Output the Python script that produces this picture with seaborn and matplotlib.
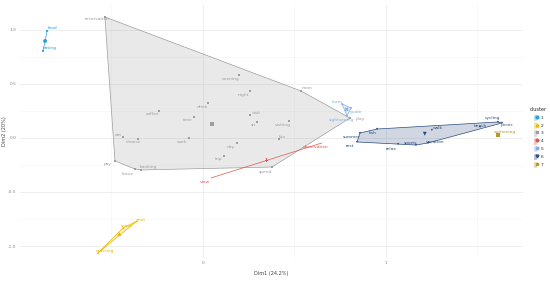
import numpy as np
import pandas as pd
import matplotlib
matplotlib.use("Agg")
import matplotlib.pyplot as plt
from matplotlib.patches import Polygon, Patch
from matplotlib.lines import Line2D
from matplotlib.legend_handler import HandlerTuple
import seaborn as sns

# word coordinates on the first two dimensions, with cluster labels
words = ["food", "eating",
         "fruit", "snack", "ordering",
         "reservation", "evening", "night", "noon", "drink", "coffee", "time",
         "visit", "sit", "visiting", "eat", "choose", "work", "fun", "day",
         "trip", "pay", "leave", "booking", "spend", "play",
         "observation", "view",
         "learn", "guide", "sightseeing",
         "summer", "rest", "fish", "relax", "sports", "vacation", "walk",
         "beach", "cycling", "picnic",
         "swimming"]
dim1 = [-0.852, -0.874,
        -0.361, -0.437, -0.574,
        -0.536, 0.197, 0.257, 0.536, 0.027, -0.240, -0.049,
        0.257, 0.295, 0.470, -0.437, -0.355, -0.077, 0.415, 0.186,
        0.115, -0.481, -0.372, -0.339, 0.377, 0.803,
        0.650, 0.044,
        0.760, 0.809, 0.787,
        0.858, 0.842, 0.951, 1.066, 1.164, 1.230, 1.251,
        1.514, 1.612, 1.634,
        1.612]
dim2 = [0.991, 0.806,
        -0.769, -0.833, -1.065,
        1.120, 0.583, 0.435, 0.435, 0.324, 0.250, 0.194,
        0.213, 0.148, 0.157, 0.009, -0.009, 0.000, -0.009, -0.046,
        -0.167, -0.213, -0.287, -0.296, -0.269, 0.185,
        -0.046, -0.370,
        0.315, 0.278, 0.204,
        0.046, -0.037, 0.083, -0.056, -0.065, -0.046, 0.074,
        0.102, 0.148, 0.139,
        0.028]
cluster = [1, 1,
           2, 2, 2,
           3, 3, 3, 3, 3, 3, 3, 3, 3, 3, 3, 3, 3, 3, 3, 3, 3, 3, 3, 3, 3,
           4, 4,
           5, 5, 5,
           6, 6, 6, 6, 6, 6, 6, 6, 6, 6,
           7]

# label offsets in pixels (dx, dy)
label_offset = {
    "food": (6, 3), "eating": (7, 3), "fruit": (5, 1), "snack": (4, 2),
    "ordering": (7, 2), "reservation": (-8, -2), "evening": (-8, -4),
    "night": (-7, -4), "noon": (6, 3), "drink": (-6, -4), "coffee": (-6, -3),
    "time": (-6, -3), "visit": (6, 2), "sit": (-4, -3), "visiting": (-6, -4),
    "eat": (-5, 2), "choose": (-5, -3), "work": (-7, -4), "fun": (4, 2),
    "day": (-6, -4), "trip": (-5, -3), "pay": (-7, -3), "leave": (-7, -5),
    "booking": (7, 3), "spend": (-7, -5), "play": (10, -1),
    "observation": (-6, -4), "view": (-6, -4), "learn": (-5, 2),
    "guide": (5, -4), "sightseeing": (-5, -4), "summer": (-8, -4),
    "rest": (-7, -4), "fish": (-4, -4), "relax": (-7, -5), "sports": (-6, 2),
    "vacation": (7, 1), "walk": (6, 2), "beach": (0, 1), "cycling": (-5, 4),
    "picnic": (5, -2), "swimming": (7, 3),
}

df = pd.DataFrame({"word": words, "dim1": dim1, "dim2": dim2, "cluster": cluster})

palette = {1: "#2E9FDF", 2: "#E7B800", 3: "#9E9E9E", 4: "#E0574A",
           5: "#86B0E3", 6: "#2B4C7E", 7: "#B59A2A"}
markers = {1: "o", 2: "^", 3: "s", 4: "P", 5: "X", 6: "v", 7: "s"}


def convex_hull(pts):
    pts = sorted(map(tuple, pts))
    if len(pts) < 3:
        return np.array(pts)

    def cross(o, a, b):
        return (a[0] - o[0]) * (b[1] - o[1]) - (a[1] - o[1]) * (b[0] - o[0])

    lower, upper = [], []
    for p in pts:
        while len(lower) >= 2 and cross(lower[-2], lower[-1], p) <= 0:
            lower.pop()
        lower.append(p)
    for p in reversed(pts):
        while len(upper) >= 2 and cross(upper[-2], upper[-1], p) <= 0:
            upper.pop()
        upper.append(p)
    return np.array(lower[:-1] + upper[:-1])


sns.set_theme(style="whitegrid")
plt.rcParams["font.family"] = ["DejaVu Sans"]

fig = plt.figure(figsize=(5.5, 2.83), dpi=100)
ax = fig.add_axes([20 / 550, 25 / 283, 503 / 550, 253 / 283])

# hulls
for c, g in df.groupby("cluster"):
    pts = g[["dim1", "dim2"]].to_numpy()
    col = palette[c]
    if len(pts) >= 3:
        hull = convex_hull(pts)
        ax.add_patch(Polygon(hull, closed=True, facecolor=col, alpha=0.22,
                             edgecolor="none", zorder=1))
        ax.add_patch(Polygon(hull, closed=True, facecolor="none",
                             edgecolor=col, lw=0.5, zorder=1.5))
    elif len(pts) == 2:
        ax.plot(pts[:, 0], pts[:, 1], color=col, lw=0.5, zorder=1.5)

sns.scatterplot(data=df, x="dim1", y="dim2", hue="cluster", style="cluster",
                palette=palette, markers=markers, s=2.5, linewidth=0,
                legend=False, ax=ax, zorder=2)

centers = df.groupby("cluster")[["dim1", "dim2"]].mean().reset_index()
sns.scatterplot(data=centers, x="dim1", y="dim2", hue="cluster", style="cluster",
                palette=palette, markers=markers, s=8, linewidth=0,
                legend=False, ax=ax, zorder=3)

for _, r in df.iterrows():
    dx, dy = label_offset.get(r["word"], (0, 3))
    ax.annotate(r["word"], (r["dim1"], r["dim2"]), xytext=(dx, dy),
                textcoords="offset pixels", ha="center", va="center",
                fontsize=3.2, color=palette[r["cluster"]], zorder=4)

ax.set_xlim(-1.0, 1.749)
ax.set_ylim(-1.111, 1.231)
ax.set_xticks([0, 1])
ax.set_xticks([-0.5, 0.5, 1.5], minor=True)
ax.set_yticks([-1.0, -0.5, 0.0, 0.5, 1.0])
ax.set_yticks([-0.75, -0.25, 0.25, 0.75], minor=True)
ax.set_yticklabels(["-1.0", "-0.5", "0.0", "0.5", "1.0"])
ax.grid(which="major", color="#EBEBEB", lw=0.6)
ax.grid(which="minor", color="#F4F4F4", lw=0.4)
ax.tick_params(axis="both", which="major", labelsize=3.2, colors="#888888",
               length=1.5, width=0.4, pad=1)
ax.tick_params(axis="both", which="minor", length=0)
for s in ax.spines.values():
    s.set_visible(False)
ax.set_facecolor("white")
ax.set_xlabel("Dim1 (24.2%)", fontsize=3.6, color="#444444", labelpad=4)
ax.set_ylabel("Dim2 (20%)", fontsize=3.6, color="#444444", labelpad=0.5)

handles = []
for c in sorted(palette):
    handles.append((Patch(facecolor=palette[c], alpha=0.35, edgecolor=palette[c], lw=0.4),
                    Line2D([], [], marker=markers[c], color=palette[c], ls="", markersize=2)))
leg = fig.legend(handles, [str(c) for c in sorted(palette)], title="cluster",
                 handler_map={tuple: HandlerTuple(ndivide=None)},
                 loc="upper left", bbox_to_anchor=(527 / 550, 1 - 104 / 283),
                 frameon=False, fontsize=3.2, title_fontsize=3.6,
                 handlelength=1.0, handleheight=1.5, labelspacing=0.55,
                 handletextpad=0.5, borderpad=0.2)

fig.savefig("out.png", dpi=100, facecolor="white")
